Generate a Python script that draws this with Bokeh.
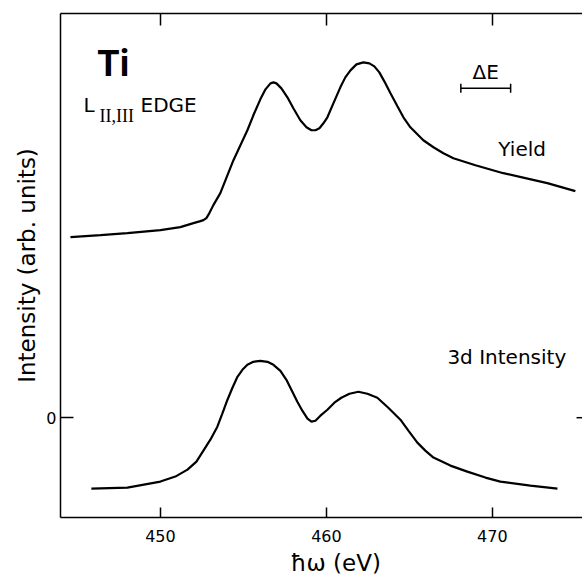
from bokeh.plotting import figure
from bokeh.models import (Range1d, LinearAxis, FixedTicker, Label, Whisker,
                          ColumnDataSource, TeeHead, Title)
from bokeh.embed import file_html
from bokeh.resources import INLINE

# ---- data ----
yield_energy = [444.58, 446.39, 448.01, 450.00, 451.20, 451.99, 452.41, 452.59, 452.77,
                452.95, 453.19, 453.61, 454.40, 454.82, 455.24, 455.60, 456.02, 456.33,
                456.63, 456.81, 456.99, 457.29, 457.65, 458.01, 458.43, 458.80, 459.10,
                459.34, 459.58, 459.82, 460.06, 460.42, 460.84, 461.14, 461.45, 461.81,
                462.23, 462.59, 462.89, 463.19, 463.49, 463.86, 464.28, 464.64, 465.06,
                465.48, 465.84, 466.45, 467.05, 467.65, 468.98, 470.66, 471.99, 473.31,
                475.00]
yield_intensity = [1.81, 1.83, 1.85, 1.88, 1.91, 1.95, 1.97, 1.98, 2.00,
                   2.05, 2.13, 2.25, 2.58, 2.73, 2.88, 3.03, 3.19, 3.29,
                   3.35, 3.36, 3.35, 3.30, 3.21, 3.10, 2.98, 2.91, 2.88,
                   2.88, 2.90, 2.95, 3.01, 3.15, 3.31, 3.41, 3.48, 3.54,
                   3.56, 3.55, 3.52, 3.46, 3.37, 3.25, 3.12, 3.01, 2.91,
                   2.84, 2.78, 2.71, 2.65, 2.60, 2.53, 2.45, 2.40, 2.35,
                   2.27]

d3_energy = [445.84, 448.01, 450.00, 450.90, 451.63, 452.17, 452.59, 453.01, 453.43,
             453.73, 454.04, 454.34, 454.64, 454.94, 455.24, 455.60, 456.02, 456.45,
             456.81, 457.23, 457.59, 457.95, 458.25, 458.55, 458.86, 459.10, 459.34,
             459.64, 460.06, 460.48, 460.90, 461.39, 461.93, 462.47, 463.07, 463.73,
             464.46, 464.94, 465.48, 465.96, 466.45, 467.47, 468.49, 469.58, 470.48,
             472.29, 473.92]
d3_intensity = [-0.71, -0.70, -0.64, -0.59, -0.52, -0.44, -0.33, -0.22, -0.09,
                0.04, 0.18, 0.30, 0.41, 0.48, 0.53, 0.56, 0.57, 0.56,
                0.53, 0.47, 0.38, 0.26, 0.16, 0.07, -0.01, -0.04, -0.03,
                0.02, 0.08, 0.15, 0.20, 0.24, 0.26, 0.24, 0.20, 0.10,
                -0.02, -0.13, -0.25, -0.33, -0.40, -0.48, -0.54, -0.60, -0.64,
                -0.68, -0.71]

x_ticks = [450, 460, 470]
y_ticks = [0]
delta_e_lower = [468.1]
delta_e_upper = [471.1]
delta_e_level = [3.30]

FONT = "DejaVu Sans"
X_START, X_END = 443.98, 475.43

p = figure(width=582, height=579, output_backend="svg", toolbar_location=None,
           x_range=Range1d(X_START, X_END), y_range=Range1d(-1.0, 4.05),
           min_border_left=60, min_border_top=13, min_border_bottom=61,
           min_border_right=0)
p.outline_line_color = None
p.grid.visible = False
p.background_fill_color = "white"
p.border_fill_color = "white"

# bottom axis
xa = p.xaxis[0]
xa.ticker = FixedTicker(ticks=x_ticks)
xa.major_tick_in = 10
xa.major_tick_out = 0
xa.minor_tick_in = 0
xa.minor_tick_out = 0
xa.axis_line_width = 1.5
xa.major_tick_line_width = 1.5
xa.axis_line_color = "black"
xa.major_tick_line_color = "black"
xa.major_label_text_font = FONT
xa.major_label_text_font_size = "16px"
xa.major_label_text_color = "black"
xa.major_label_standoff = 12

# left axis
ya = p.yaxis[0]
ya.ticker = FixedTicker(ticks=y_ticks)
ya.major_tick_in = 13
ya.major_tick_out = 0
ya.minor_tick_in = 0
ya.minor_tick_out = 0
ya.axis_line_width = 1.5
ya.major_tick_line_width = 1.5
ya.axis_line_color = "black"
ya.major_tick_line_color = "black"
ya.major_label_text_font = FONT
ya.major_label_text_font_size = "16px"
ya.major_label_text_color = "black"
ya.major_label_standoff = 4
ya.axis_label = "Intensity (arb. units)"
ya.axis_label_text_font = FONT
ya.axis_label_text_font_size = "23px"
ya.axis_label_text_font_style = "normal"
ya.axis_label_text_color = "black"
ya.axis_label_standoff = 3

# top axis (ticks only)
top = LinearAxis(ticker=FixedTicker(ticks=x_ticks), major_tick_in=12, major_tick_out=0,
                 minor_tick_in=0, minor_tick_out=0,
                 major_label_overrides={t: "" for t in x_ticks},
                 major_label_text_font_size="2px",
                 major_label_standoff=0, axis_line_width=1.5, major_tick_line_width=1.5,
                 axis_line_color="black", major_tick_line_color="black")
p.add_layout(top, "above")

# x axis title, placed below the tick labels
xt = Title(text="ħω (eV)", align="left", offset=230, text_font=FONT,
           text_font_size="23px", text_font_style="normal", text_color="black",
           standoff=7)
p.add_layout(xt, "below")

# right-hand tick at y = 0 (the frame's right edge has no line)
p.segment(x0=[X_END - 0.36] * len(y_ticks), y0=y_ticks,
          x1=[X_END] * len(y_ticks), y1=y_ticks, line_color="black", line_width=1.5)

# curves
p.line(yield_energy, yield_intensity, line_color="black", line_width=2.2)
p.line(d3_energy, d3_intensity, line_color="black", line_width=2.2)

# resolution bar
src = ColumnDataSource(dict(base=delta_e_level, lower=delta_e_lower, upper=delta_e_upper))
w = Whisker(base="base", lower="lower", upper="upper", source=src, dimension="width",
            line_width=1.5, line_color="black",
            lower_head=TeeHead(size=9, line_width=1.5, line_color="black"),
            upper_head=TeeHead(size=9, line_width=1.5, line_color="black"))
p.add_layout(w)

def lab(x, y, text, size, font=FONT, style="normal", align="left"):
    p.add_layout(Label(x=x, y=y, text=text, text_font=font, text_font_size=size,
                       text_font_style=style, text_color="black", text_align=align,
                       text_baseline="alphabetic"))

lab(446.20, 3.54, "Ti", "36px", font="Roboto", style="bold")
lab(445.36, 3.13, "L", "20px")
lab(446.33, 3.02, "II,III", "18px", font="Liberation Serif")
lab(448.80, 3.13, "EDGE", "20px")
lab(468.80, 3.46, "ΔE", "20px")
lab(470.36, 2.69, "Yield", "20px")
lab(467.29, 0.61, "3d Intensity", "20px")

open("out.html", "w").write(file_html(p, INLINE))
